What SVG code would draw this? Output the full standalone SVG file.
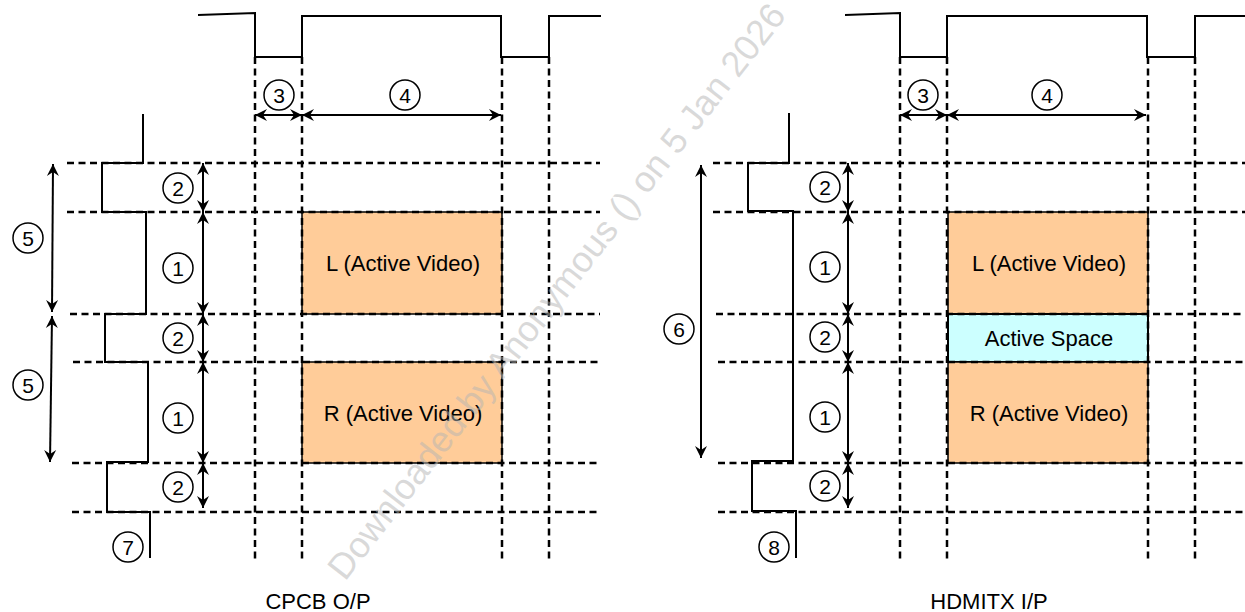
<svg xmlns="http://www.w3.org/2000/svg" width="1245" height="612" viewBox="0 0 1245 612">
<style>
.dash{stroke:#000;stroke-width:2.5;stroke-dasharray:7 4.5;fill:none}
.wave{stroke:#000;stroke-width:2;fill:none}
.dim{stroke:#000;stroke-width:2;fill:none;marker-start:url(#ah);marker-end:url(#ah)}
.num{fill:#fff;stroke:#000;stroke-width:1.5}
.t{font-family:"Liberation Sans",Arial,sans-serif;font-size:21px;fill:#000;text-anchor:middle}
.lb{font-size:22px}
.box{fill:#FFCC99;stroke:#000;stroke-width:1.5}
.sp{fill:#CCFFFF;stroke:#000;stroke-width:2}
.wm{font-family:"Liberation Sans",Arial,sans-serif;font-size:36px;fill:#b4b4b4;fill-opacity:0.5}
</style>
<defs>
<marker id="ah" markerUnits="userSpaceOnUse" markerWidth="14" markerHeight="14" viewBox="-13 -7 14 14" refX="0" refY="0" orient="auto-start-reverse">
<path d="M0,0 L-12,-6 L-8,0 L-12,6 Z" fill="#000"/>
</marker>
</defs>

<!-- LEFT: CPCB O/P -->
<g id="cpcb-boxes">
<rect class="box" x="302" y="212" width="200" height="102"/>
<rect class="box" x="302" y="362" width="200" height="101"/>
<text class="t lb" x="403" y="271">L (Active Video)</text>
<text class="t lb" x="403" y="421">R (Active Video)</text>
</g>
<g id="cpcb-grid">
<path class="dash" d="M67,163H600M67,212H600M70,314H600M73,362H600M72,463H600M72,512H600"/>
<path class="dash" d="M255,57V560M302,57V560M502,57V560M549,57V560"/>
</g>
<g id="cpcb-waves">
<path class="wave" d="M198,15L255,13V57H302V16H501V57H549V16H601"/>
<path class="wave" d="M143,114V163H102V212H146V314H105V362H148V462H107V512H150V558"/>
</g>
<g id="cpcb-dims">
<path class="dim" d="M255,115H302"/>
<path class="dim" d="M302,115H501"/>
<path class="dim" d="M203,163V212"/>
<path class="dim" d="M203,212V314"/>
<path class="dim" d="M203,314V362"/>
<path class="dim" d="M203,362V463"/>
<path class="dim" d="M203,463V508"/>
<path class="dim" d="M53,164L52,312"/>
<path class="dim" d="M52,316L50,462"/>
</g>
<g id="cpcb-labels">
<circle class="num" cx="279" cy="95" r="15"/><text class="t" x="279" y="102.5">3</text>
<circle class="num" cx="405" cy="95" r="15"/><text class="t" x="405" y="102.5">4</text>
<circle class="num" cx="178" cy="188" r="15"/><text class="t" x="178" y="195.5">2</text>
<circle class="num" cx="178" cy="268" r="15"/><text class="t" x="178" y="275.5">1</text>
<circle class="num" cx="178" cy="338" r="15"/><text class="t" x="178" y="345.5">2</text>
<circle class="num" cx="178" cy="418" r="15"/><text class="t" x="178" y="425.5">1</text>
<circle class="num" cx="178" cy="487" r="15"/><text class="t" x="178" y="494.5">2</text>
<circle class="num" cx="128" cy="547" r="15"/><text class="t" x="128" y="554.5">7</text>
<circle class="num" cx="28" cy="238" r="15"/><text class="t" x="28" y="245.5">5</text>
<circle class="num" cx="28" cy="385" r="15"/><text class="t" x="28" y="392.5">5</text>
<text class="t lb" x="318" y="609">CPCB O/P</text>
</g>

<!-- RIGHT: HDMITX I/P -->
<g id="hdmi-boxes">
<rect class="box" x="948" y="212" width="200" height="102"/>
<rect class="sp" x="948" y="314" width="200" height="48"/>
<rect class="box" x="948" y="362" width="200" height="101"/>
<text class="t lb" x="1049" y="271">L (Active Video)</text>
<text class="t lb" x="1049" y="346">Active Space</text>
<text class="t lb" x="1049" y="421">R (Active Video)</text>
</g>
<g id="hdmi-grid">
<path class="dash" d="M713,163H1245M713,212H1245M716,314H1245M718,362H1245M718,463H1245M718,512H1245"/>
<path class="dash" d="M900,57V560M947,57V560M1148,57V560M1195,57V560"/>
</g>
<g id="hdmi-waves">
<path class="wave" d="M845,15L900,13V57H947V16H1147V57H1195V16H1245"/>
<path class="wave" d="M789,113V163H748V211H793V461H752V511H796V558"/>
</g>
<g id="hdmi-dims">
<path class="dim" d="M900,115H947"/>
<path class="dim" d="M947,115H1146"/>
<path class="dim" d="M848,163V212"/>
<path class="dim" d="M848,212V314"/>
<path class="dim" d="M848,314V362"/>
<path class="dim" d="M848,362V463"/>
<path class="dim" d="M848,463V508"/>
<path class="dim" d="M701,165V458"/>
</g>
<g id="hdmi-labels">
<circle class="num" cx="923" cy="95" r="15"/><text class="t" x="923" y="102.5">3</text>
<circle class="num" cx="1047" cy="95" r="15"/><text class="t" x="1047" y="102.5">4</text>
<circle class="num" cx="825" cy="187" r="15"/><text class="t" x="825" y="194.5">2</text>
<circle class="num" cx="825" cy="267" r="15"/><text class="t" x="825" y="274.5">1</text>
<circle class="num" cx="825" cy="337" r="15"/><text class="t" x="825" y="344.5">2</text>
<circle class="num" cx="825" cy="417" r="15"/><text class="t" x="825" y="424.5">1</text>
<circle class="num" cx="825" cy="486" r="15"/><text class="t" x="825" y="493.5">2</text>
<circle class="num" cx="774" cy="547" r="15"/><text class="t" x="774" y="554.5">8</text>
<circle class="num" cx="679" cy="329" r="15"/><text class="t" x="679" y="336.5">6</text>
<text class="t lb" x="989" y="609">HDMITX I/P</text>
</g>

<text class="wm" x="345" y="582" transform="rotate(-52 345 582)">Downloaded by Anonymous () on 5 Jan 2026</text>
</svg>
